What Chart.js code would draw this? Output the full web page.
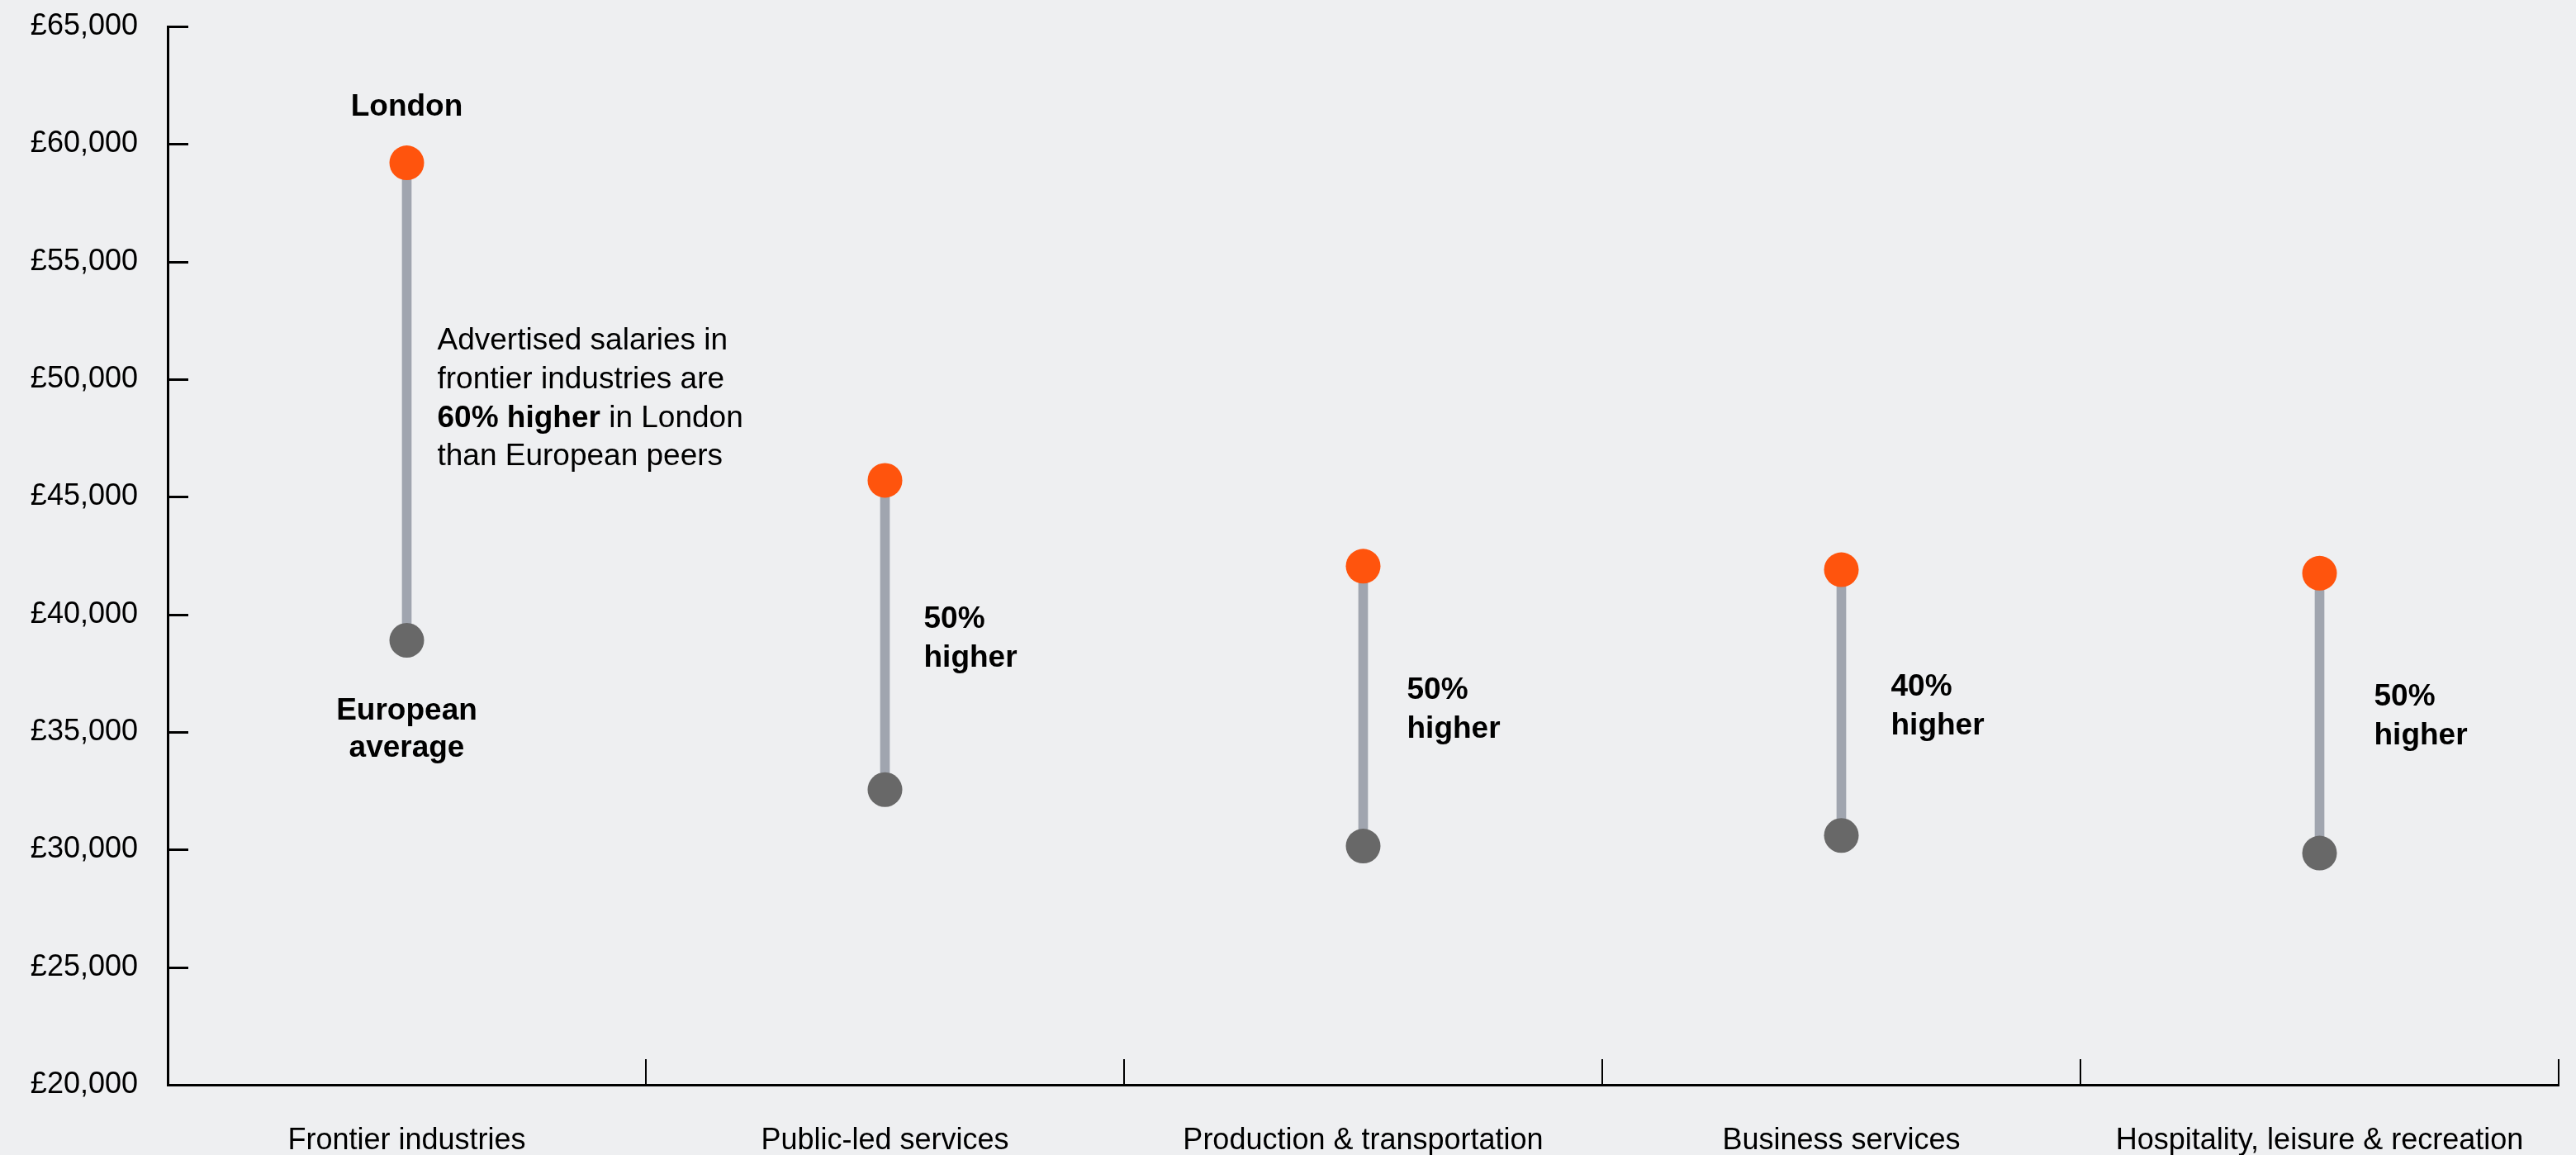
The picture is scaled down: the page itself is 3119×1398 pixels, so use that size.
<!DOCTYPE html>
<html>
<head>
<meta charset="utf-8">
<script src="https://cdn.jsdelivr.net/npm/chart.js@4.4.1/dist/chart.umd.min.js"></script>
<style>
  html, body { margin: 0; padding: 0; background: #eeeff1; }
  #wrap { width: 3119px; height: 1398px; }
</style>
</head>
<body>
<div id="wrap"><canvas id="salaryChart" width="3119" height="1398"></canvas></div>
<script>
const categories = [
    'Frontier industries',
    'Public-led services',
    'Production & transportation',
    'Business services',
    'Hospitality, leisure & recreation',
];
const londonSalary = [59200, 45700, 42050, 41900, 41750];
const europeSalary = [38900, 32550, 30150, 30600, 29850];
const gapLabels = [null, ['50%', 'higher'], ['50%', 'higher'], ['40%', 'higher'], ['50%', 'higher']];
const frontierNote = [
    [['Advertised salaries in', false]],
    [['frontier industries are', false]],
    [['60% higher', true], [' in London', false]],
    [['than European peers', false]],
];
const yMin = 20000;
const yMax = 65000;
const yStep = 5000;

// horizontal nudge of each gap label from its connector
const gapLabelDx = [37, 47, 53, 60, 66];

const FONT = '"Liberation Sans", Arial, Helvetica, sans-serif';
const ORANGE = '#ff540d';
const GREY_DOT = '#686868';
const STEM = '#a0a5af';

function money(v) {
    return '£' + String(v).replace(/\B(?=(\d{3})+(?!\d))/g, ',');
}

function drawRuns(ctx, x, y, runs) {
    let cx = x;
    runs.forEach(([text, bold]) => {
        ctx.font = (bold ? 'bold ' : '') + '37px ' + FONT;
        ctx.fillText(text, cx, y);
        cx += ctx.measureText(text).width;
    });
}

// inner tick marks on both axes plus the text notes
const decorations = {
    id: 'decorations',
    afterDraw(chart) {
        const { ctx, chartArea } = chart;
        const xs = chart.scales.x;
        const ys = chart.scales.y;
        ctx.save();
        ctx.strokeStyle = '#000';

        ctx.lineWidth = 3;
        for (let v = yMin + yStep; v <= yMax; v += yStep) {
            const py = Math.round(ys.getPixelForValue(v)) + 0.5;
            ctx.beginPath();
            ctx.moveTo(chartArea.left, py);
            ctx.lineTo(chartArea.left + 25, py);
            ctx.stroke();
        }

        ctx.lineWidth = 2;
        for (let i = 0; i < categories.length; i++) {
            const px = Math.round(xs.getPixelForValue(i + 0.5));
            ctx.beginPath();
            ctx.moveTo(px, chartArea.bottom);
            ctx.lineTo(px, chartArea.bottom - 31);
            ctx.stroke();
        }

        ctx.fillStyle = '#000';
        ctx.textBaseline = 'middle';

        // series names on the first pair
        const x0 = xs.getPixelForValue(0);
        ctx.textAlign = 'center';
        ctx.font = 'bold 37px ' + FONT;
        ctx.fillText('London', x0, ys.getPixelForValue(londonSalary[0]) - 67);
        const eu0 = ys.getPixelForValue(europeSalary[0]);
        ctx.fillText('European', x0, eu0 + 86);
        ctx.fillText('average', x0, eu0 + 131);

        ctx.textAlign = 'left';
        categories.forEach((_, i) => {
            const px = xs.getPixelForValue(i) + gapLabelDx[i];
            const mid = (ys.getPixelForValue(londonSalary[i]) + ys.getPixelForValue(europeSalary[i])) / 2;
            if (i === 0) {
                frontierNote.forEach((runs, k) => {
                    drawRuns(ctx, px, mid - 3 + (k - 1.5) * 46.7, runs);
                });
            } else {
                ctx.font = 'bold 37px ' + FONT;
                ctx.fillText(gapLabels[i][0], px, mid - 19);
                ctx.fillText(gapLabels[i][1], px, mid + 28);
            }
        });
        ctx.restore();
    },
};

new Chart(document.getElementById('salaryChart'), {
    type: 'bar',
    data: {
        labels: categories,
        datasets: [
            {
                type: 'line',
                label: 'London',
                data: londonSalary,
                showLine: false,
                pointRadius: 21,
                pointHoverRadius: 21,
                pointBorderWidth: 0,
                pointBackgroundColor: ORANGE,
                order: 1,
            },
            {
                type: 'line',
                label: 'European average',
                data: europeSalary,
                showLine: false,
                pointRadius: 21,
                pointHoverRadius: 21,
                pointBorderWidth: 0,
                pointBackgroundColor: GREY_DOT,
                order: 2,
            },
            {
                label: 'Gap',
                data: categories.map((_, i) => [europeSalary[i], londonSalary[i]]),
                backgroundColor: STEM,
                barThickness: 11,
                borderSkipped: false,
                order: 3,
            },
        ],
    },
    options: {
        responsive: false,
        devicePixelRatio: 1,
        animation: false,
        layout: { padding: { top: 32, right: 20, left: 0, bottom: 0 } },
        plugins: {
            legend: { display: false },
            tooltip: { enabled: false },
        },
        scales: {
            x: {
                offset: true,
                grid: { display: false, drawTicks: false },
                border: { display: true, color: '#000', width: 3 },
                ticks: {
                    color: '#000',
                    font: { family: FONT, size: 36 },
                    padding: 46,
                    maxRotation: 0,
                    autoSkip: false,
                },
                afterFit: (scale) => {
                    scale.height = 85;
                    scale.paddingLeft = 0;
                    scale.paddingRight = 0;
                },
            },
            y: {
                min: yMin,
                max: yMax,
                grid: { display: false, drawTicks: false },
                border: { display: true, color: '#000', width: 3 },
                ticks: {
                    stepSize: yStep,
                    color: '#000',
                    font: { family: FONT, size: 36 },
                    padding: 36,
                    callback: (v) => money(v),
                },
                afterFit: (scale) => {
                    scale.width = 203;
                    scale.paddingTop = 0;
                    scale.paddingBottom = 0;
                },
            },
        },
    },
    plugins: [decorations],
});
</script>
</body>
</html>
